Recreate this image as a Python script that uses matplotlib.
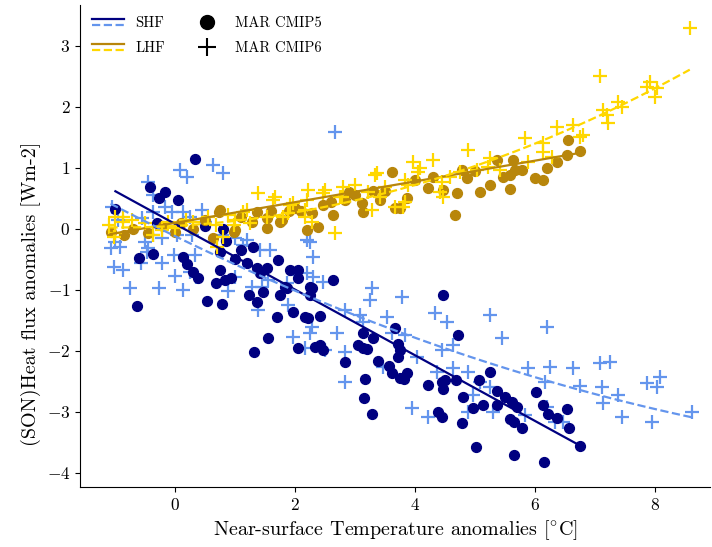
import numpy as np
import matplotlib
matplotlib.use("Agg")
import matplotlib.pyplot as plt
from matplotlib.legend_handler import HandlerBase
from matplotlib.lines import Line2D

plt.rcParams["font.family"] = "serif"
plt.rcParams["font.serif"] = ["cmr10"]
plt.rcParams["mathtext.fontset"] = "cm"
plt.rcParams["axes.formatter.use_mathtext"] = True

# MAR CMIP5 - sensible heat flux
t5_shf = [0.32, -0.17, 0.05, -0.28, -1.0, -0.42, -0.64, -0.6, -0.37, 0.13, 0.2, 0.3, 0.37,
          0.75, 0.75, 1.0, 0.67, 0.83, 0.92, 0.53, 0.77, 1.2, 1.37, 1.53, 1.42, 1.72, 2.05,
          1.92, 1.75, 1.83, 1.97, 2.25, 1.7, 1.3, 2.05, 2.63, 2.28, 2.25, 1.87, 1.22, 1.37,
          1.47, 2.17, 2.22, 2.42, 1.55, 1.32, 2.05, 2.33, 2.42, 2.47, 2.83, 3.05, 3.13, 3.13,
          3.2, 3.3, 3.17, 3.15, 3.28, 3.38, 3.57, 3.62, 3.67, 3.72, 3.75, 3.72, 3.75, 3.82,
          3.87, 4.22, 4.47, 4.45, 4.47, 4.38, 4.45, 4.72, 4.5, 4.68, 4.8, 4.78, 5.02, 4.97,
          5.13, 5.07, 5.25, 5.37, 5.5, 5.62, 5.7, 5.58, 5.65, 5.78, 5.37, 5.65, 6.15, 6.02,
          6.13, 6.22, 6.37, 6.53, 6.57, 6.75, 0.8, 0.5, 0.85, -0.3, 1.1]
shf5 = [1.14, 0.61, 0.47, 0.5, 0.33, 0.69, -1.27, -0.47, -0.41, -0.46, -0.58, -0.7, -0.81,
        -0.37, -0.67, -0.5, -0.89, -0.84, -0.8, -1.18, -1.23, -0.56, -0.64, -0.64, -0.72, -0.51, -0.67,
        -0.67, -1.08, -0.95, -1.36, -0.95, -1.44, -0.3, -0.8, -0.84, -0.97, -1.08, -0.97, -1.08, -1.2,
        -1.03, -1.44, -1.46, -1.43, -1.79, -2.02, -1.95, -1.93, -1.9, -1.98, -2.18, -1.9, -1.7, -1.95,
        -1.97, -1.79, -2.46, -2.77, -3.03, -2.16, -2.25, -2.36, -1.62, -1.89, -1.98, -2.1, -2.44, -2.46,
        -2.36, -2.56, -1.08, -2.51, -2.62, -3.0, -3.08, -1.74, -2.48, -2.48, -2.75, -3.18, -3.57, -2.93,
        -2.89, -2.48, -2.34, -2.66, -2.75, -2.84, -2.92, -3.11, -3.16, -3.26, -2.89, -3.7, -3.82, -2.67,
        -2.89, -3.03, -3.1, -2.95, -3.26, -3.56, 0.0, 0.05, -0.2, 0.1, -0.35]

# MAR CMIP5 - latent heat flux
t5_lhf = [6.55, 6.75, 6.53, 6.37, 6.2, 6.0, 6.13, 5.63, 5.67, 5.78, 5.58, 5.47, 5.58, 5.37,
          5.25, 5.08, 4.87, 4.78, 4.7, 4.67, 4.47, 4.22, 3.87, 3.62, 2.63, 2.38, 2.2, 3.13,
          3.12, 3.67, 3.75, 1.75, 1.53, 1.28, 3.42, 2.47, 2.83, -1.08, -0.45, 0.72, 1.0,
          1.53, 1.78, 1.37, 2.28, 0.75, 0.97, 0.63, -0.7, -0.2, 0.1, 0.3, 0.5, 1.1, -0.85,
          0.0, 1.9, 2.6, 4.0, 4.3, 5.0, 3.3, 2.0, 2.1, 1.6, 2.9, 3.0, 3.5]
lhf5 = [1.46, 1.28, 1.21, 1.1, 1.0, 0.84, 0.8, 1.13, 0.97, 0.97, 0.89, 0.85, 0.66, 1.13,
        0.72, 0.61, 0.84, 0.97, 0.59, 0.23, 0.64, 0.67, 0.51, 0.93, 0.23, 0.03, -0.02, 0.28,
        0.43, 0.34, 0.34, 0.11, 0.02, 0.11, 0.48, 0.39, 0.48, -0.05, -0.07, 0.28, -0.02,
        0.18, 0.15, 0.28, 0.26, 0.31, -0.05, -0.15, 0.0, 0.05, 0.1, 0.0, 0.15, 0.2, -0.1,
        -0.05, 0.3, 0.45, 0.8, 0.85, 0.95, 0.62, 0.35, 0.3, 0.3, 0.6, 0.55, 0.62]

# MAR CMIP6 - sensible heat flux
t6_shf = [0.08, 0.2, 0.62, 0.8, -0.45, -0.38, -0.17, -0.55, -1.08, -0.92, -1.03, -0.87, -0.75,
          -0.28, -0.22, -0.03, 0.12, 0.0, -0.47, 0.25, 0.33, 0.35, 0.88, 1.0, -0.58, -0.45,
          1.2, 1.42, 1.58, 1.87, 2.2, 2.3, 2.25, 1.38, 1.45, 2.3, 1.28, 1.55, 2.0, 2.47,
          1.88, 1.97, 2.28, 2.25, 2.17, 2.5, 2.7, 2.83, 2.83, 2.83, 3.08, 3.13, 3.28, 3.25,
          3.78, 3.53, 3.62, 3.83, 3.47, 4.03, 4.33, 4.37, 3.95, 4.22, 4.53, 4.45, 4.63, 5.25,
          5.45, 6.2, 4.63, 4.88, 5.08, 5.25, 4.97, 4.88, 5.3, 5.88, 6.25, 6.17, 6.2, 5.83,
          6.33, 6.47, 6.63, 6.75, 7.08, 7.25, 7.12, 7.13, 7.38, 7.45, 7.87, 8.03, 8.08, 7.95,
          8.62, 2.67, 2.2, -0.38, -0.05, 0.12, 0.45, 0.25, 0.5, -1.0, -0.37, -0.22, 0.03,
          0.28, 0.78, 1.0, 1.12, -0.5, -1.05, -0.95]
shf6 = [0.97, 0.85, 1.05, 0.92, 0.77, 0.56, 0.36, 0.18, -0.31, -0.29, -0.62, -0.67, -0.97,
        -0.97, -0.56, -0.43, -1.0, -0.77, -0.38, -0.7, -0.43, -0.79, -1.02, -0.79, -0.56, -0.31,
        -0.18, -0.34, -0.34, -0.89, -0.72, -0.79, -0.21, -1.33, -0.95, -0.46, -0.95, -0.84, -0.75, -0.87,
        -1.25, -1.77, -1.61, -1.7, -1.95, -1.98, -1.7, -2.02, -2.51, -1.33, -1.41, -1.52, -0.97, -1.16,
        -1.11, -1.44, -1.7, -1.74, -2.26, -2.1, -1.38, -2.34, -2.93, -3.08, -1.52, -1.98, -2.28, -1.41,
        -1.79, -1.61, -1.9, -2.34, -2.51, -2.59, -2.72, -3.0, -3.0, -2.28, -2.26, -2.51, -2.92, -3.05,
        -3.16, -3.16, -2.28, -2.57, -2.2, -2.18, -2.59, -2.85, -2.72, -3.08, -2.52, -2.59, -2.43, -3.16,
        -3.0, 1.59, -0.18, 0.28, 0.28, 0.28, 0.31, 0.2, 0.11, -0.21, -0.1, -0.15, -0.1,
        -0.1, -0.1, -0.15, -0.26, -0.21, 0.36, 0.15]

# MAR CMIP6 - latent heat flux
t6_lhf = [8.58, 7.08, 7.92, 8.03, 8.0, 7.87, 7.38, 7.45, 7.13, 7.2, 7.22, 6.8, 6.37, 6.63,
          6.75, 5.83, 6.13, 6.13, 6.28, 4.88, 5.88, 5.25, 5.22, 5.42, 5.03, 4.3, 3.97, 4.08,
          3.83, 3.8, 4.45, 4.42, 4.47, 4.58, 3.37, 4.05, 2.75, 2.47, 2.22, 2.2, 2.17, 2.67,
          3.0, 3.22, 3.5, 3.42, 3.67, 3.28, 1.38, 1.67, 1.97, 2.17, 2.28, 2.5, 2.8, 2.78,
          3.33, 1.88, -1.0, -0.87, -1.1, -1.0, -0.72, -0.12, -0.5, 0.17, 0.3, 0.55, 0.88,
          1.0, 1.12, -0.22, 0.0, 0.67, -0.38, -1.03, -0.87, 1.63, 1.92, 0.8, 0.97, 1.2,
          1.25, 1.53, 1.8, 0.7, 4.75, 3.83, 3.88]
lhf6 = [3.29, 2.51, 2.41, 2.31, 2.16, 2.33, 2.08, 2.0, 1.95, 1.87, 1.74, 1.54, 1.67, 1.7,
        1.51, 1.49, 1.41, 1.26, 1.18, 1.3, 1.1, 1.16, 1.02, 0.97, 0.97, 1.13, 1.1, 1.0,
        0.8, 0.36, 0.77, 0.61, 0.52, 0.85, 0.92, 0.93, 0.52, 0.59, 0.64, 0.48, 0.2, -0.07,
        0.72, 0.61, 0.69, 0.52, 0.36, 0.31, 0.59, 0.52, 0.43, 0.31, 0.11, 0.64, 0.69, 0.52,
        0.89, 0.26, 0.2, 0.11, 0.07, -0.07, 0.15, 0.11, 0.1, 0.15, 0.12, 0.2, 0.23,
        0.15, 0.28, -0.02, 0.02, 0.07, -0.1, -0.13, 0.2, 0.48, 0.39, -0.13, 0.07, 0.31,
        0.1, 0.2, 0.2, -0.3, 0.93, 0.44, 0.72]

# regression coefficients (highest power first)
shf5_fit = [-0.538, 0.08]
lhf5_fit = [0.17, 0.1]
shf6_fit = [0.0155, -0.478, -0.12]
lhf6_fit = [0.0285, 0.054, 0.05]

colors = {
    "shf5": "#000080",
    "shf6": "#6495ED",
    "lhf5": "#B8860B",
    "lhf6": "#FFD700",
}


def fit_curve(x, coef):
    xs = np.linspace(min(x), max(x), 100)
    return xs, np.polyval(coef, xs)


class StackedLines(HandlerBase):
    # two lines, one above the other, in a single legend entry
    def create_artists(self, legend, orig_handle, xdescent, ydescent,
                       width, height, fontsize, trans):
        artists = []
        for line, frac in zip(orig_handle, (0.8, 0.2)):
            y = frac * height - ydescent
            artists.append(Line2D([-xdescent, width - xdescent], [y, y],
                                  color=line.get_color(),
                                  linestyle=line.get_linestyle(),
                                  linewidth=line.get_linewidth(),
                                  transform=trans))
        return artists


fig = plt.figure(figsize=(7.12, 5.47), dpi=100)
ax = fig.add_axes([0.1124, 0.1097, 0.885, 0.881])

ax.scatter(t6_shf, shf6, marker="+", s=110, linewidths=1.6, color=colors["shf6"], zorder=2)
ax.scatter(t5_shf, shf5, marker="o", s=50, color=colors["shf5"], zorder=2)
ax.scatter(t5_lhf, lhf5, marker="o", s=50, color=colors["lhf5"], zorder=2)
ax.scatter(t6_lhf, lhf6, marker="+", s=110, linewidths=1.6, color=colors["lhf6"], zorder=2)

xs, ys = fit_curve(t5_shf, shf5_fit)
ax.plot(xs, ys, color=colors["shf5"], lw=1.6, zorder=3)
xs, ys = fit_curve(t5_lhf, lhf5_fit)
ax.plot(xs, ys, color=colors["lhf5"], lw=1.6, zorder=3)
xs, ys = fit_curve(t6_shf, shf6_fit)
ax.plot(xs, ys, color=colors["shf6"], lw=1.6, ls="--", zorder=3)
xs, ys = fit_curve(t6_lhf, lhf6_fit)
ax.plot(xs, ys, color=colors["lhf6"], lw=1.6, ls="--", zorder=3)

ax.set_xlim(-1.59, 8.92)
ax.set_ylim(-4.23, 3.67)
ax.set_xticks([0, 2, 4, 6, 8])
ax.set_yticks([-4, -3, -2, -1, 0, 1, 2, 3])
ax.tick_params(labelsize=12.5)

ax.set_xlabel(r"Near-surface Temperature anomalies [$^{\circ}$C]", fontsize=14.5)
ax.set_ylabel("(SON)Heat flux anomalies [Wm-2]", fontsize=14.5, y=0.4)

ax.spines["top"].set_visible(False)
ax.spines["right"].set_visible(False)

handles = [
    (Line2D([], [], color=colors["shf5"], lw=1.6), Line2D([], [], color=colors["shf6"], lw=1.6, ls="--")),
    (Line2D([], [], color=colors["lhf5"], lw=1.6), Line2D([], [], color=colors["lhf6"], lw=1.6, ls="--")),
    Line2D([], [], color="black", marker="o", ls="none", markersize=10),
    Line2D([], [], color="black", marker="+", ls="none", markersize=13, markeredgewidth=1.5),
]
labels = ["SHF", "LHF", "MAR CMIP5", "MAR CMIP6"]
ax.legend(handles, labels, handler_map={tuple: StackedLines()}, loc="upper left",
          ncol=2, frameon=False, fontsize=10.5, handlelength=2.2, columnspacing=1.8,
          labelspacing=0.75, borderaxespad=0.4)

fig.savefig("out.png", dpi=100)
